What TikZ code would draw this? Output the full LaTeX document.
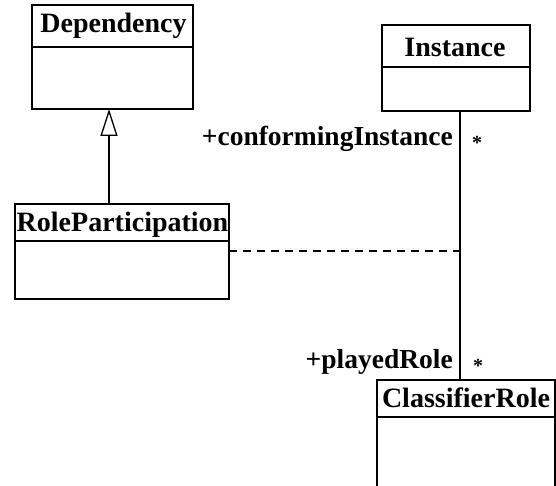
\documentclass[tikz,border=0pt]{standalone}
\usepackage{fontspec}
\setmainfont{Liberation Serif}
\usetikzlibrary{arrows.meta}
\tikzset{
  classbox/.style={draw, line width=1.3pt, inner sep=0pt, outer sep=0pt, rectangle},
  classname/.style={anchor=base, inner sep=0pt, font=\fontsize{28}{30}\selectfont\bfseries},
  rolelabel/.style={anchor=base east, inner sep=0pt, font=\fontsize{27.5}{30}\selectfont\bfseries},
  mult/.style={anchor=base, inner sep=0pt, font=\fontsize{20}{22}\selectfont\bfseries},
  conn/.style={line width=1.3pt},
  gen/.style={conn, -{Triangle[open, length=27pt, width=17pt, line width=1.3pt]}},
  dep/.style={conn, dash pattern=on 8pt off 6pt},
}
\begin{document}
\begin{tikzpicture}[x=1pt,y=-1pt]
\useasboundingbox (0,0) rectangle (556,486);
\clip (0,0) rectangle (556,486);
% classes
\node[classbox, minimum width=161pt, minimum height=104pt] (dep) at (112.5,57) {};
\draw[conn] (32,47) -- (193,47);
\node[classname] (depT) at (113.5,33) {Dependency};

\node[classbox, minimum width=148pt, minimum height=86pt] (inst) at (456,68) {};
\draw[conn] (382,67) -- (530,67);
\node[classname] (instT) at (455,57) {Instance};

\node[classbox, minimum width=214pt, minimum height=95pt] (rp) at (122,251.5) {};
\draw[conn] (15,241) -- (229,241);
\node[classname] (rpT) at (122.5,232) {RoleParticipation};

\node[classbox, minimum width=178pt, minimum height=130pt] (cr) at (466,445) {};
\draw[conn] (377,417) -- (555,417);
\node[classname] (crT) at (466,407) {ClassifierRole};

% connectors
\coordinate (gtop) at (109,109);
\coordinate (gbot) at (109,204);
\draw[gen] (gbot) -- (gtop);
\coordinate (atop) at (460,111);
\coordinate (abot) at (460,380);
\draw[conn] (atop) -- (abot);
\coordinate (dend) at (460,251);
\draw[dep] (rp.east |- dend) -- (dend);

% labels
\node[rolelabel] (l1) at (453,146) {+conformingInstance};
\node[mult] (m1) at (477,150) {*};
\node[rolelabel] (l2) at (453,368) {+playedRole};
\node[mult] (m2) at (478,372) {*};
\end{tikzpicture}
\end{document}
